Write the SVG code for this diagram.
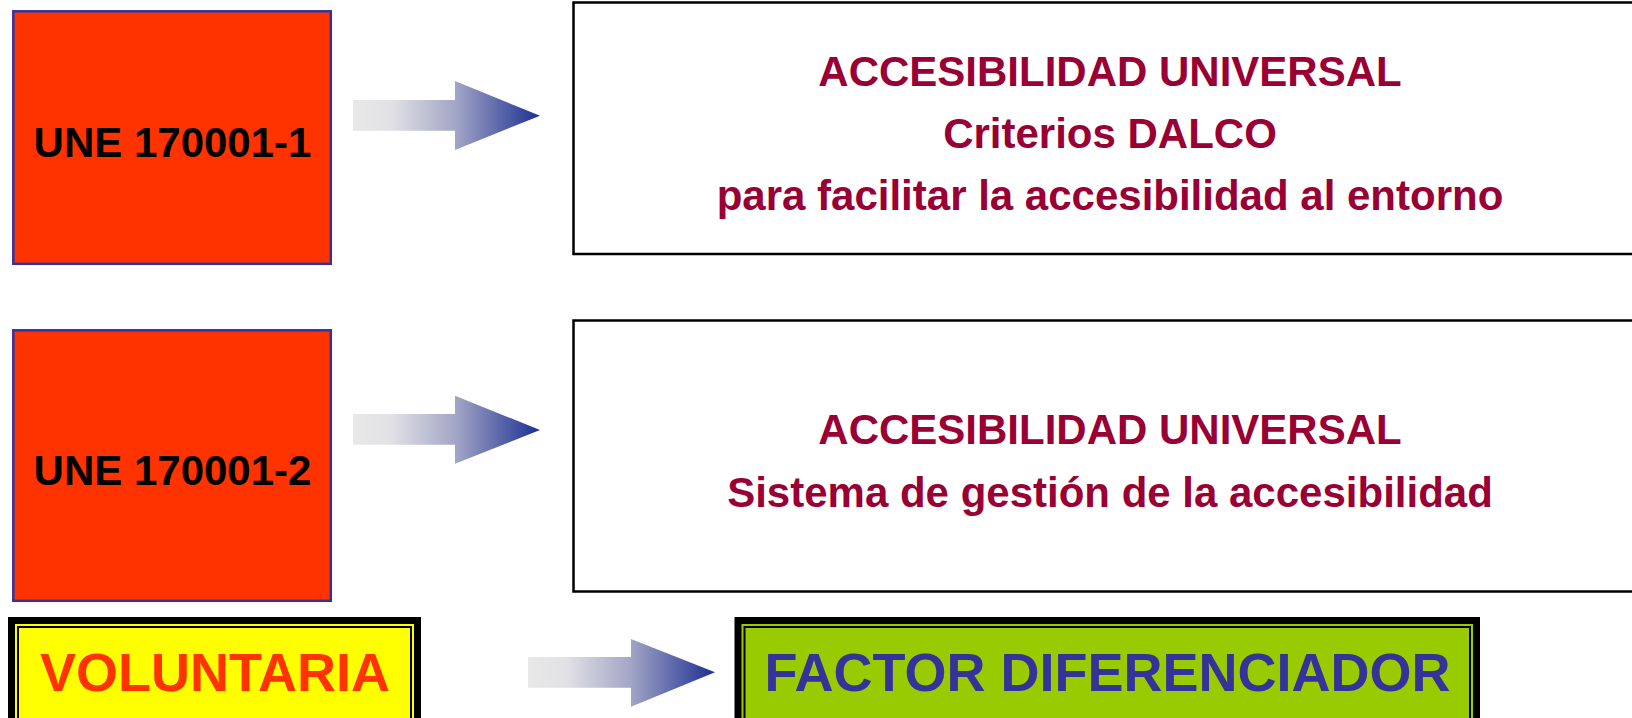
<svg xmlns="http://www.w3.org/2000/svg" width="1632" height="718" viewBox="0 0 1632 718">
<style>
.std{fill:#ff3300;stroke:#3333a0;stroke-width:2.5}
.desc{fill:#ffffff;stroke:#000000;stroke-width:2.5}
.t{font-family:"Liberation Sans",Arial,sans-serif;font-weight:bold;text-anchor:middle}
.std-t{font-size:42px;fill:#000000}
.desc-t{font-size:42px;fill:#990033}
.big{font-size:54px}
</style>
<defs>
<linearGradient id="ag1" gradientUnits="objectBoundingBox" x1="0" y1="0" x2="1" y2="0">
<stop offset="0" stop-color="#e8e8e8"/>
<stop offset="0.2" stop-color="#e2e2e6"/>
<stop offset="0.55" stop-color="#a2a5c5"/>
<stop offset="1" stop-color="#1c2f92"/>
</linearGradient>
</defs>

<g id="une1">
<rect class="std" x="13.3" y="11.3" width="317.5" height="252.5"/>
<text class="t std-t" x="172.5" y="157">UNE 170001-1</text>
</g>
<g id="une2">
<rect class="std" x="13.3" y="330.3" width="317.5" height="270.5"/>
<text class="t std-t" x="172.5" y="485">UNE 170001-2</text>
</g>
<g id="desc1">
<rect class="desc" x="573.5" y="2.5" width="1080" height="251.5"/>
<text class="t desc-t" x="1110" y="86">ACCESIBILIDAD UNIVERSAL</text>
<text class="t desc-t" x="1110" y="148">Criterios DALCO</text>
<text class="t desc-t" x="1110" y="210">para facilitar la accesibilidad al entorno</text>
</g>
<g id="desc2">
<rect class="desc" x="573.5" y="320.5" width="1080" height="271"/>
<text class="t desc-t" x="1110" y="444">ACCESIBILIDAD UNIVERSAL</text>
<text class="t desc-t" x="1110" y="507">Sistema de gestión de la accesibilidad</text>
</g>
<g id="voluntaria">
<rect x="8" y="617" width="413" height="130" fill="#000000"/>
<rect x="15" y="624" width="399" height="120" fill="#ffff00"/>
<rect x="18" y="627" width="393" height="120" fill="#ffff00" stroke="#000000" stroke-width="2"/>
<text class="t big" x="215" y="690.5" fill="#ff3300">VOLUNTARIA</text>
</g>
<g id="factor">
<rect x="734.5" y="617" width="745.5" height="130" fill="#000000"/>
<rect x="741.5" y="624" width="731.5" height="120" fill="#99cc00"/>
<rect x="744.5" y="627" width="725.5" height="120" fill="#99cc00" stroke="#000000" stroke-width="2"/>
<text class="t big" x="1107.5" y="690.5" fill="#333399">FACTOR DIFERENCIADOR</text>
</g>

<g id="connectors">
<path d="M353,100 L455,100 L455,81 L540,115.7 L455,150 L455,130.7 L353,130.7 Z" fill="url(#ag1)"/>
<path d="M353,414 L455,414 L455,395.7 L540,430 L455,463.7 L455,444.7 L353,444.7 Z" fill="url(#ag1)"/>
<path d="M528,657 L631,657 L631,639 L715,672.3 L631,706.7 L631,687.7 L528,687.7 Z" fill="url(#ag1)"/>
</g>
</svg>
